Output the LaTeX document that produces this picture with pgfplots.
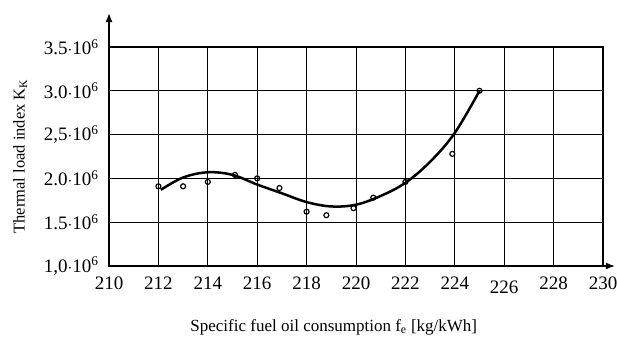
\documentclass[border=0pt]{standalone}
\usepackage{pgfplots}
\pgfplotsset{compat=1.18}
\usepackage{fontspec}
\setmainfont{Liberation Serif}
\usetikzlibrary{arrows.meta}
\begin{document}
\begin{tikzpicture}[x=1pt,y=1pt]
\useasboundingbox (0,0) rectangle (617,343);
\begin{axis}[
  at={(109pt,77pt)}, anchor=south west,
  scale only axis, width=494pt, height=219pt,
  xmin=210, xmax=230, ymin=1.0, ymax=3.5,
  xtick={210,212,...,230},
  xticklabels={210,212,214,216,218,220,222,224,{\raisebox{-4pt}[\height][0pt]{226}},228,230},
  ytick={1.0,1.5,2.0,2.5,3.0,3.5},
  yticklabels={{1,0$\cdot$10\textsuperscript{6}},{1.5$\cdot$10\textsuperscript{6}},{2.0$\cdot$10\textsuperscript{6}},{2,5$\cdot$10\textsuperscript{6}},{3.0$\cdot$10\textsuperscript{6}},{3.5$\cdot$10\textsuperscript{6}}},
  grid=major,
  major grid style={black, line width=1pt},
  axis line style={black, line width=1.3pt},
  major tick length=0pt,
  tick label style={font=\fontsize{19}{22}\selectfont},
  xticklabel style={yshift=-7pt},
  yticklabel style={xshift=-7pt},
  xlabel={Specific fuel oil consumption f\textsubscript{e} [kg/kWh]},
  ylabel={Thermal load index K\textsubscript{K}},
  label style={font=\fontsize{17}{20}\selectfont},
  ylabel style={font=\fontsize{16.5}{20}\selectfont, at={(axis description cs:-0.18,0.5)}, anchor=center},
  xlabel style={at={(axis description cs:0.455,-0.297)}, anchor=base},
  clip=false,
]
\addplot[black, line width=2.5pt, smooth, tension=0.6] coordinates {
 (212.1,1.87) (213,2.01) (214,2.07) (215,2.04) (216,1.93) (217,1.83)
 (218,1.73) (219,1.68) (220,1.70) (221,1.80) (222,1.95) (223,2.19)
 (224,2.52) (225,3.0)
};
\addplot[only marks, mark=o, mark size=2.5pt, black, line width=1.2pt] coordinates {
 (212,1.91) (213,1.91) (214,1.96) (215.1,2.04) (216,2.0) (216.9,1.89)
 (218,1.62) (218.8,1.58) (219.9,1.66) (220.7,1.78) (222,1.96) (223.9,2.28) (225,3.0)
};
\draw[line width=1.3pt, -{Latex[length=9pt,width=7pt]}] (rel axis cs:0,0) -- (rel axis cs:0,1.155);
\draw[line width=1.3pt, -{Latex[length=9pt,width=7pt]}] (rel axis cs:0,0) -- (rel axis cs:1.024,0);
\end{axis}
\end{tikzpicture}
\end{document}
